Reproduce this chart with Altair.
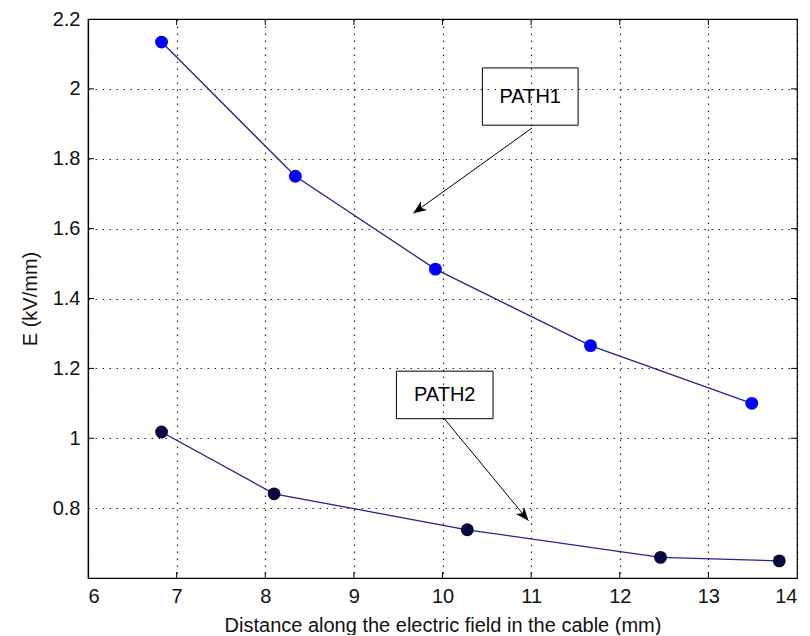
import altair as alt
import pandas as pd

# ---- data ----
path1_x = [6.83, 8.34, 9.92, 11.67, 13.49]
path1_y = [2.134, 1.750, 1.484, 1.265, 1.100]
path2_x = [6.83, 8.10, 10.28, 12.46, 13.80]
path2_y = [1.018, 0.841, 0.738, 0.659, 0.649]

x_ticks = [6, 7, 8, 9, 10, 11, 12, 13, 14]
y_ticks = [0.8, 1.0, 1.2, 1.4, 1.6, 1.8, 2.0, 2.2]

labels = ["PATH1", "PATH2"]
box_x1 = [10.45, 9.48]
box_x2 = [11.53, 10.57]
box_y1 = [2.06, 1.192]
box_y2 = [1.896, 1.056]
arrow_x1 = [11.01, 10.02]
arrow_y1 = [1.888, 1.056]
arrow_x2 = [9.67, 10.97]
arrow_y2 = [1.644, 0.764]
arrow_angle = [234.5, 140.4]

FONT = "Liberation Sans"
W, H = 709, 559

df1 = pd.DataFrame({"x": path1_x, "y": path1_y, "series": "PATH1"})
df2 = pd.DataFrame({"x": path2_x, "y": path2_y, "series": "PATH2"})
df = pd.concat([df1, df2], ignore_index=True)

ann = pd.DataFrame({
    "label": labels,
    "bx1": box_x1, "bx2": box_x2, "by1": box_y1, "by2": box_y2,
    "cx": [(a + b) / 2 for a, b in zip(box_x1, box_x2)],
    "cy": [(a + b) / 2 for a, b in zip(box_y1, box_y2)],
    "ax1": arrow_x1, "ay1": arrow_y1, "ax2": arrow_x2, "ay2": arrow_y2,
    "angle": arrow_angle,
})

xscale = alt.Scale(domain=[6, 14], nice=False, zero=False)
yscale = alt.Scale(domain=[0.6, 2.2], nice=False, zero=False)

xaxis = alt.Axis(values=x_ticks, title="Distance along the electric field in the cable (mm)",
                 grid=True, tickSize=0, labelPadding=8, titlePadding=9, format="~g")
yaxis = alt.Axis(values=y_ticks, title="E (kV/mm)", grid=True, tickSize=0,
                 labelPadding=8, titlePadding=12, format=".1~f")

base = alt.Chart(df)

lines = base.mark_line(color="#23238f", strokeWidth=1.3).encode(
    x=alt.X("x:Q", scale=xscale, axis=xaxis),
    y=alt.Y("y:Q", scale=yscale, axis=yaxis),
    detail="series:N",
)

points = base.mark_point(filled=True, opacity=1, size=165, shape="circle").encode(
    x=alt.X("x:Q", scale=xscale),
    y=alt.Y("y:Q", scale=yscale),
    color=alt.Color("series:N", scale=alt.Scale(domain=["PATH1", "PATH2"],
                                                range=["#0000ff", "#0a0a40"]), legend=None),
)

# inward ticks (MATLAB style)
xt = pd.DataFrame({"v": x_ticks[1:-1]})
yt = pd.DataFrame({"v": y_ticks[1:-1]})
tick_b = alt.Chart(xt).mark_rule(color="black").encode(
    x=alt.X("v:Q", scale=xscale), y=alt.value(H), y2=alt.value(H - 6))
tick_t = alt.Chart(xt).mark_rule(color="black").encode(
    x=alt.X("v:Q", scale=xscale), y=alt.value(0), y2=alt.value(6))
tick_l = alt.Chart(yt).mark_rule(color="black").encode(
    y=alt.Y("v:Q", scale=yscale), x=alt.value(0), x2=alt.value(6))
tick_r = alt.Chart(yt).mark_rule(color="black").encode(
    y=alt.Y("v:Q", scale=yscale), x=alt.value(W), x2=alt.value(W - 6))

abase = alt.Chart(ann)
boxes = abase.mark_rect(fill=None, fillOpacity=0, stroke="black", strokeWidth=1).encode(
    x=alt.X("bx1:Q", scale=xscale), x2="bx2:Q",
    y=alt.Y("by1:Q", scale=yscale), y2="by2:Q")
texts = abase.mark_text(font=FONT, fontSize=20, color="black", baseline="middle", align="center").encode(
    x=alt.X("cx:Q", scale=xscale), y=alt.Y("cy:Q", scale=yscale), text="label:N")
arrows = abase.mark_rule(color="black", strokeWidth=1).encode(
    x=alt.X("ax1:Q", scale=xscale), x2="ax2:Q",
    y=alt.Y("ay1:Q", scale=yscale), y2="ay2:Q")
heads = abase.mark_point(filled=True, opacity=1, color="black", size=700,
                         shape="M0,0 L0.4,1 L0,0.72 L-0.4,1 Z").encode(
    x=alt.X("ax2:Q", scale=xscale), y=alt.Y("ay2:Q", scale=yscale),
    angle=alt.Angle("angle:Q", scale=None))

chart = alt.layer(lines, points, tick_b, tick_t, tick_l, tick_r, boxes, texts, arrows, heads).properties(
    width=W, height=H,
    autosize=alt.AutoSizeParams(type="none"),
    padding={"left": 80, "top": 11, "right": 5, "bottom": 57},
    background="white",
).configure_view(stroke="black", strokeWidth=1.2).configure_axis(
    labelFont=FONT, titleFont=FONT, labelFontSize=20, titleFontSize=20,
    titleFontWeight="normal", labelColor="#111111", titleColor="#111111",
    domainColor="black", domainWidth=1.2,
    gridColor="black", gridDash=[1.5, 5.5], gridOpacity=0.85, gridWidth=1.2,
)

chart.save("out.html", embed_options={"renderer": "svg", "actions": False})
